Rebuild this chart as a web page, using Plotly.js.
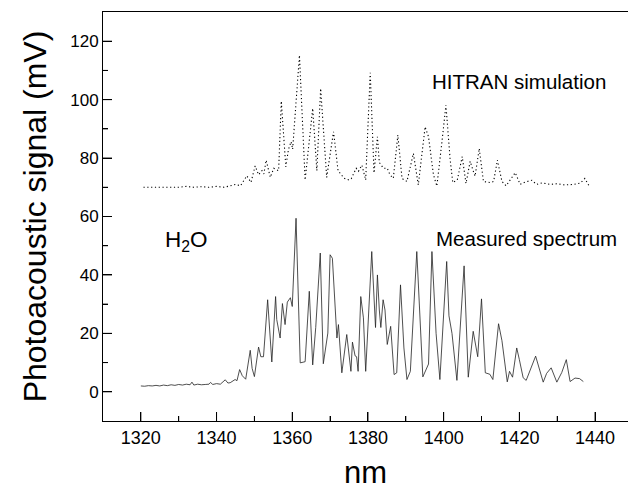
<!DOCTYPE html>
<html>
<head>
<meta charset="utf-8">
<script src="https://cdn.plot.ly/plotly-3.0.1.min.js"></script>
<style>html,body{margin:0;padding:0;background:#fff;}#chart{width:628px;height:491px;}</style>
</head>
<body>
<div id="chart"></div>
<script>
// Measured spectrum (nm, mV)
const measuredNm = [1320,1321,1322,1323,1324,1325,1326,1327,1328,1329,1330,1331,1332,1333,1333.5,1334,1335,1336,1337,1338,1338.4,1339,1340,1341,1342.3,1343,1343.6,1344.9,1345.4,1346.1,1346.8,1347.7,1348.9,1349.4,1350,1351.1,1351.7,1352.4,1353.5,1354.6,1355.6,1355.9,1356.8,1357.4,1358.1,1358.7,1359.5,1360,1361,1362.1,1363.4,1364.5,1365.4,1366.2,1367.4,1368.2,1369.4,1370,1370.6,1371.2,1371.8,1372.2,1373.1,1374.4,1375.5,1375.9,1376.6,1377,1377.4,1378.1,1378.8,1379.4,1381,1382,1382.5,1383,1383.4,1384,1384.5,1385.1,1386,1386.9,1387.6,1388.6,1389.5,1390.3,1391.2,1392.9,1394.5,1396,1396.9,1398,1399,1400.8,1401.4,1402.2,1403.5,1405.4,1406.5,1407.8,1409,1410,1411,1412.2,1413,1414.5,1415.4,1416.8,1417.4,1418.2,1419.3,1420,1421,1421.8,1424.3,1426.3,1427.2,1428.4,1429.9,1431.2,1432.4,1433.4,1434.7,1435.9,1436.9];
const measuredMv = [2.0,1.9,2.1,2.0,2.2,2.0,2.3,2.1,2.4,2.2,2.5,2.3,2.6,2.4,3.3,2.3,2.6,2.4,2.5,2.6,3.2,2.5,2.8,2.6,4.1,3.0,3.1,4.2,3.8,7.6,5.5,4.3,14.2,8,5.2,15.3,12,12,31.5,10.2,32.6,24.7,18.4,30.2,23,30.7,32.2,29.2,59.4,9.9,10.3,34.4,9.2,22,47.5,9.6,20.1,46.9,45.7,30,18.4,23,6.5,19.6,7,17,12.3,12,7,32.6,25.3,7,48,22,40,28,22,31.5,28,16.2,22.4,5.9,6.5,36.6,15,4.2,7,48,5.1,9.5,48,20,4.2,44.6,26,20,3.9,43.1,5,20.7,12,31.8,6.5,6,4.2,23.3,17.5,3.4,7,5,15,11,4.8,3.9,12.2,3.3,6.3,8.2,3.3,6.6,11,3.5,4.7,4.5,3.5];

// HITRAN simulation (nm, mV, offset)
const hitranNm = [1320.7,1322,1324,1326,1328,1330,1332,1334,1336,1338,1340,1342,1343.6,1345,1346.3,1348,1349.1,1350.2,1351.1,1352,1352.5,1353.1,1354.2,1355.1,1356.4,1357.1,1358.3,1359,1359.7,1360.1,1361.9,1363.4,1365.4,1366.5,1367.5,1369.1,1370.9,1372.1,1373.7,1375,1375.6,1376.9,1377.5,1378.4,1379.4,1380.6,1381.6,1382.5,1383,1384.1,1385.1,1385.8,1386.7,1387.9,1389,1390.3,1392,1393.3,1395.1,1396,1397.3,1398.2,1399.5,1400.6,1401.7,1402.4,1403.6,1404.9,1405.9,1407,1407.7,1408.3,1409.4,1410.5,1412.3,1413.2,1414.2,1415.4,1416.5,1418.9,1420.2,1421.5,1423.3,1424.5,1426,1428,1430,1432,1434.5,1436.2,1437.3,1438.4];
const hitranMv = [70,70,70,70,70.2,70,70.3,70,70.2,70,70.3,70,70.5,71,70.5,73.9,71.7,77.3,74.3,75.7,74.6,79.3,73.4,76.5,75.7,99.5,77,83,85.6,83,115.2,72.5,97,75.7,103.8,73.4,89,75.7,73.1,72.5,73,76.5,75.5,77.6,72.5,109.2,74.9,87.3,78.5,76.5,76.5,74.3,73.1,87.9,73,72,81.6,70.8,90.7,87.3,74.3,70.4,85,98.1,79.7,71.6,72.5,80.5,71.3,78.9,76,73.8,83.3,72,71.6,72,79.3,72,70.5,75,71,71.8,72.4,71,71.5,71,71.2,70.8,71,71.5,73,70.5];

// Tick positions
const xTicks = [1320,1340,1360,1380,1400,1420,1440];
const xMinorTicks = [1330,1350,1370,1390,1410,1430];
const yTicks = [0,20,40,60,80,100,120];
const yMinorTicks = [10,30,50,70,90,110];

const FONT = 'Arial';

const traces = [
  {x: hitranNm, y: hitranMv, type: 'scatter', mode: 'lines', name: 'HITRAN simulation',
   line: {color: '#000', width: 1.1, dash: '1.2px,2.6px'}},
  {x: measuredNm, y: measuredMv, type: 'scatter', mode: 'lines', name: 'Measured spectrum',
   line: {color: '#222', width: 0.8}}
];

function xTick(v, len) {
  return {type: 'line', xref: 'x', yref: 'paper', ysizemode: 'pixel', yanchor: 0,
          x0: v, x1: v, y0: 0, y1: len, line: {color: '#000', width: 1}, layer: 'above'};
}
function yTick(v, len) {
  return {type: 'line', yref: 'y', xref: 'paper', xsizemode: 'pixel', xanchor: 0,
          y0: v, y1: v, x0: 0, x1: len, line: {color: '#000', width: 1}, layer: 'above'};
}
const shapes = []
  .concat(xTicks.map(v => xTick(v, 9)))
  .concat(xMinorTicks.map(v => xTick(v, 5)))
  .concat(yTicks.map(v => yTick(v, 9)))
  .concat(yMinorTicks.map(v => yTick(v, 5)));

const layout = {
  width: 628, height: 491,
  margin: {l: 103, r: 0, t: 12, b: 70},
  plot_bgcolor: 'rgba(0,0,0,0)',
  showlegend: false,
  xaxis: {
    range: [1310, 1448.7], tickmode: 'linear', tick0: 1320, dtick: 20,
    ticks: 'inside', ticklen: 9, tickcolor: '#000',
    minor: {ticks: 'inside', dtick: 10, ticklen: 5, tickcolor: '#000'},
    showline: true, linecolor: '#000', mirror: true,
    showgrid: false, zeroline: false,
    tickfont: {family: FONT, size: 18, color: '#000'},
    title: {text: 'nm', font: {family: FONT, size: 31, color: '#000'}, standoff: 14}
  },
  yaxis: {
    range: [-10, 130], tickmode: 'linear', tick0: 0, dtick: 20,
    ticks: 'inside', ticklen: 9, tickcolor: '#000',
    minor: {ticks: 'inside', dtick: 10, ticklen: 5, tickcolor: '#000'},
    showline: true, linecolor: '#000', mirror: false,
    showgrid: false, zeroline: false,
    tickfont: {family: FONT, size: 17, color: '#000'},
    title: {text: 'Photoacoustic signal (mV)', font: {family: FONT, size: 32, color: '#000'}, standoff: 14}
  },
  shapes: shapes,
  annotations: [
    {text: 'HITRAN simulation', x: 1419.8, y: 106.2, xref: 'x', yref: 'y', showarrow: false,
     font: {family: FONT, size: 20.5, color: '#000'}, xanchor: 'center', yanchor: 'middle'},
    {text: 'Measured spectrum', x: 1422, y: 52.4, xref: 'x', yref: 'y', showarrow: false,
     font: {family: FONT, size: 20.5, color: '#000'}, xanchor: 'center', yanchor: 'middle'},
    {text: 'H<sub>2</sub>O', x: 1332, y: 51.5, xref: 'x', yref: 'y', showarrow: false,
     font: {family: FONT, size: 22.5, color: '#000'}, xanchor: 'center', yanchor: 'middle'}
  ]
};

Plotly.newPlot('chart', traces, layout, {displayModeBar: false});
</script>
</body>
</html>
